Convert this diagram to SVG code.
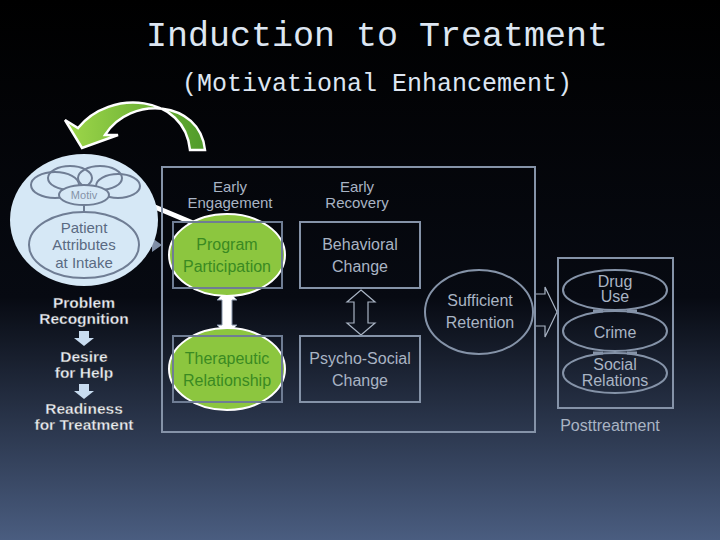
<svg xmlns="http://www.w3.org/2000/svg" width="720" height="540" viewBox="0 0 720 540">
<defs>
<linearGradient id="bg" x1="0" y1="0" x2="0" y2="1"><stop offset="0" stop-color="#000"/><stop offset="0.55" stop-color="#070a12"/><stop offset="1" stop-color="#4a5d80"/></linearGradient>
<linearGradient id="gr" x1="0" y1="0" x2="1" y2="0"><stop offset="0" stop-color="#9fd84a"/><stop offset="1" stop-color="#4f9a2a"/></linearGradient>
<style>
.t{font-family:"Liberation Sans",Arial,sans-serif;text-anchor:middle}
.g{fill:#a9b4c4;font-size:16px}
.s{font-size:15px}
.w{fill:#e8ecf2;font-size:15.5px;font-weight:bold;stroke:#333;stroke-width:0.3}
.gt{fill:#3a8a22;font-size:16px}
.b{fill:none;stroke:#8593a8;stroke-width:2}
.gb{fill:none;stroke:#6f7d94;stroke-width:2}
.mono{font-family:"Liberation Mono","DejaVu Sans Mono",monospace;fill:#dde6f2;text-anchor:middle}
</style>
</defs>
<rect width="720" height="540" fill="url(#bg)"/>
<text class="mono" x="377" y="46" font-size="35">Induction to Treatment</text>
<text class="mono" x="377" y="91" font-size="25">(Motivational Enhancement)</text>

<g id="loop-arrow">
<path d="M205,150 C200,100 130,95 105,135 L118,135 L82,148 L65,120 L78,128 C110,88 185,95 190,150 Z" fill="url(#gr)" stroke="#fff" stroke-width="2.5"/>
</g>

<g id="connectors">
<line x1="150" y1="205" x2="205" y2="228" stroke="#fff" stroke-width="5"/>
<path d="M139,243 L152,243 L152,238 L162,245 L152,252 L152,247 L139,247 Z" fill="#7f8ea6"/>
<path d="M227,290 L237,300 L232,300 L232,325 L237,325 L227,335 L217,325 L222,325 L222,300 L217,300 Z" fill="#fff" stroke="#8593a8" stroke-width="1"/>
<path d="M361,290 L375,302 L368,302 L368,323 L375,323 L361,335 L347,323 L354,323 L354,302 L347,302 Z" fill="none" stroke="#a9b4c4" stroke-width="1.2"/>
<path d="M535,294 L545,294 L545,287 L557,312 L545,337 L545,326 L535,326" fill="none" stroke="#a9b4c4" stroke-width="1.2"/>
<path d="M79,331 L89,331 L89,338 L94,338 L84,346 L74,338 L79,338 Z" fill="#c8dcf0"/>
<path d="M79,384 L89,384 L89,391 L94,391 L84,399 L74,391 L79,391 Z" fill="#c8dcf0"/>
<path d="M593,311 L603,311 M627,311 L637,311 M593,353 L603,353 M627,353 L637,353" stroke="#8593a8" stroke-width="3"/>
</g>

<g id="patient">
<ellipse cx="84" cy="220" rx="74" ry="66" fill="#d6e8f6"/>
<ellipse cx="55" cy="185" rx="24" ry="13" class="gb"/>
<ellipse cx="70" cy="178" rx="22" ry="12" fill="#d6e8f6" class="gb"/>
<ellipse cx="100" cy="178" rx="22" ry="12" fill="#d6e8f6" class="gb"/>
<ellipse cx="118" cy="186" rx="22" ry="12" fill="#d6e8f6" class="gb"/>
<ellipse cx="84" cy="195" rx="25" ry="10" fill="#d6e8f6" stroke="#6f7d94" stroke-width="2"/>
<text class="t" x="84" y="199" font-size="11" fill="#8593a8">Motiv</text>
<line x1="84" y1="205" x2="84" y2="212" stroke="#6f7d94" stroke-width="2"/>
<ellipse cx="84" cy="245" rx="55" ry="33" class="gb"/>
<text class="t" x="84" y="233" font-size="15" fill="#5a6a82">Patient</text>
<text class="t" x="84" y="250" font-size="15" fill="#5a6a82">Attributes</text>
<text class="t" x="84" y="268" font-size="15" fill="#5a6a82">at Intake</text>
</g>

<g id="stages">
<text class="t w" x="84" y="308">Problem</text><text class="t w" x="84" y="324">Recognition</text>
<text class="t w" x="84" y="362">Desire</text><text class="t w" x="84" y="378">for Help</text>
<text class="t w" x="84" y="414">Readiness</text><text class="t w" x="84" y="430">for Treatment</text>
</g>

<g id="treatment-box"><rect x="162" y="167" width="373" height="265" class="b"/></g>
<g id="early-engagement"><text class="t g s" x="230" y="192">Early</text><text class="t g s" x="230" y="208">Engagement</text></g>
<g id="program">
<ellipse cx="227" cy="255" rx="58" ry="41" fill="#8cc63f" stroke="#fff" stroke-width="2"/>
<rect x="173" y="222" width="109" height="66" class="gb"/>
<text class="t gt" x="227" y="250">Program</text><text class="t gt" x="227" y="272">Participation</text>
</g>
<g id="therapeutic">
<ellipse cx="227" cy="369" rx="58" ry="41" fill="#8cc63f" stroke="#fff" stroke-width="2"/>
<rect x="173" y="336" width="109" height="66" class="gb"/>
<text class="t gt" x="227" y="364">Therapeutic</text><text class="t gt" x="227" y="386">Relationship</text>
</g>
<g id="early-recovery"><text class="t g s" x="357" y="192">Early</text><text class="t g s" x="357" y="208">Recovery</text></g>
<g id="behavioral"><rect x="300" y="222" width="120" height="66" class="b"/><text class="t g" x="360" y="250">Behavioral</text><text class="t g" x="360" y="272">Change</text></g>
<g id="psychosocial"><rect x="300" y="336" width="120" height="66" class="b"/><text class="t g" x="360" y="364">Psycho-Social</text><text class="t g" x="360" y="386">Change</text></g>
<g id="retention"><ellipse cx="479" cy="312" rx="54" ry="42" class="b"/><text class="t g" x="480" y="306">Sufficient</text><text class="t g" x="480" y="328">Retention</text></g>

<g id="posttreatment">
<rect x="558" y="258" width="115" height="150" class="b"/>
<ellipse cx="615" cy="290" rx="52" ry="20" class="b"/>
<ellipse cx="615" cy="331" rx="52" ry="20" class="b"/>
<ellipse cx="615" cy="373" rx="52" ry="20" class="b"/>
<text class="t g" x="615" y="287" font-size="13">Drug</text><text class="t g" x="615" y="302" font-size="13">Use</text>
<text class="t g" x="615" y="338" font-size="14">Crime</text>
<text class="t g" x="615" y="370" font-size="13">Social</text><text class="t g" x="615" y="386" font-size="13">Relations</text>
<text class="t g" x="610" y="431" font-size="18">Posttreatment</text>
</g>
</svg>
